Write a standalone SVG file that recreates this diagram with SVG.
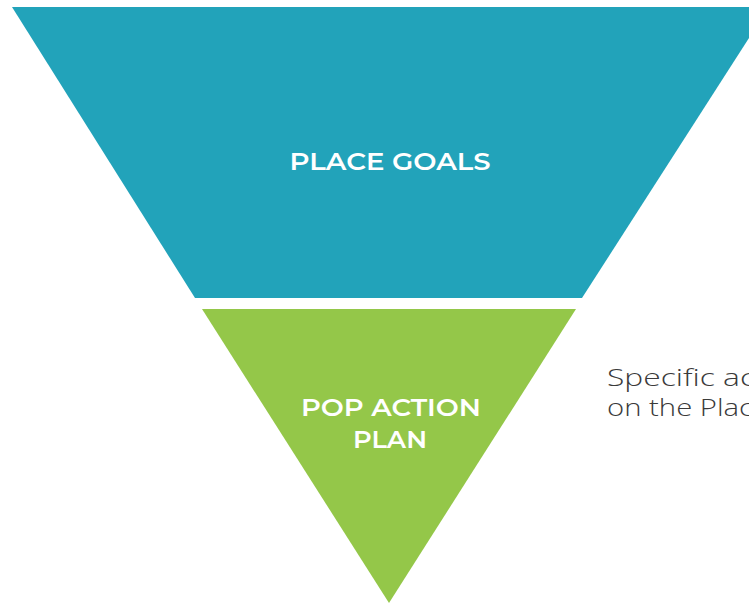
<svg xmlns="http://www.w3.org/2000/svg" width="749" height="603" viewBox="0 0 749 603">
<style>
.lbl{font-family:"Montserrat","Open Sans","Liberation Sans",sans-serif;font-weight:600;fill:#ffffff;text-anchor:middle}
.side{font-family:"Open Sans","Liberation Sans",sans-serif;font-weight:300;fill:#3a3a3a;font-size:24px}
</style>
<rect width="749" height="603" fill="#ffffff"/>
<g id="place-goals">
<polygon points="12,7 769,7 582,298 195,298" fill="#22A3BA"/>
<text class="lbl" x="390" y="170" font-size="24" textLength="201" lengthAdjust="spacingAndGlyphs">PLACE GOALS</text>
</g>
<g id="pop-action-plan">
<polygon points="202,309 576,309 389,603" fill="#94C749"/>
<text class="lbl" x="391" y="416" font-size="23" textLength="180" lengthAdjust="spacingAndGlyphs">POP ACTION</text>
<text class="lbl" x="390" y="448" font-size="23" textLength="74" lengthAdjust="spacingAndGlyphs">PLAN</text>
</g>
<g id="description">
<text class="side" x="607" y="386" textLength="148" lengthAdjust="spacingAndGlyphs">Specific ac</text>
<text class="side" x="607" y="416" textLength="146" lengthAdjust="spacingAndGlyphs">on the Plac</text>
</g>
<g id="connectors"></g>
</svg>
